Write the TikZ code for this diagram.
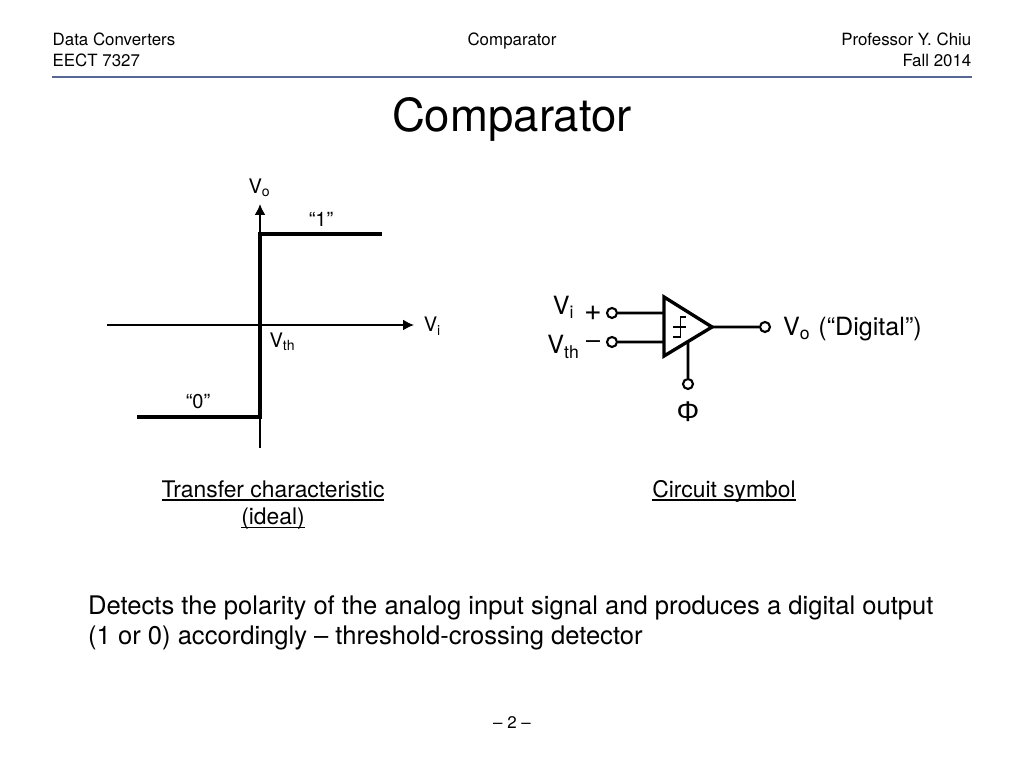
\documentclass[tikz,border=0pt]{standalone}
\usepackage{fontspec}
\usetikzlibrary{arrows.meta}
\setmainfont{TeX Gyre Heros}
\definecolor{rulecolor}{RGB}{88,104,150}
\newcommand{\ultext}[1]{\setbox0=\hbox{#1}\rlap{\rule[-0.95pt]{\wd0}{0.4pt}}\box0}
\tikzset{
  pin/.style={draw,circle,line width=0.6pt,minimum size=1mm,fill=white},
  thinline/.style={line width=0.5pt},
  thickline/.style={line width=0.95pt},
  wireline/.style={line width=0.75pt},
  axisarrow/.style={thinline,-{Latex[length=1.1mm,width=1.1mm]}},
  headtext/.style={font=\fontsize{4.8}{5.7}\selectfont},
  axistext/.style={font=\fontsize{5.7}{6.8}\selectfont},
  captext/.style={font=\fontsize{6.5}{7.8}\selectfont},
  bodytext/.style={font=\fontsize{7.28}{8.6}\selectfont},
  symtext/.style={font=\fontsize{7.15}{8.6}\selectfont},
}
\begin{document}
\begin{tikzpicture}[scale=0.1]
\tikzstyle{every node}+=[inner sep=0pt]
\useasboundingbox (0,0) rectangle (102.4,-76.8);
\fill [white] (0,0) rectangle (102.4,-76.8);
% header
\node [headtext,anchor=base west] (course) at (5.2,-4.6) {Data Converters};
\node [headtext,anchor=base west] (number) at (5.2,-6.7) {EECT 7327};
\node [headtext,anchor=base] (topic) at (51.2,-4.6) {Comparator};
\node [headtext,anchor=base east] (prof) at (97.2,-4.6) {Professor Y. Chiu};
\node [headtext,anchor=base east] (term) at (97.2,-6.7) {Fall 2014};
\coordinate (ruleL) at (5.2,-7.7);
\coordinate (ruleR) at (97.2,-7.7);
\draw [rulecolor,line width=0.5pt] (ruleL) -- (ruleR);
\node [font=\fontsize{12.95}{15}\selectfont,anchor=base] (title) at (51.2,-13.2) {Comparator};
% transfer curve
\coordinate (yLow) at (26,-44.8);
\coordinate (yHigh) at (26,-20.4);
\coordinate (xLow) at (10.7,-32.5);
\coordinate (xHigh) at (41.4,-32.5);
\draw [axisarrow] (yLow) -- (yHigh);
\draw [axisarrow] (xLow) -- (xHigh);
\coordinate (hiL) at (26,-23.4);
\coordinate (hiR) at (38.2,-23.4);
\coordinate (loL) at (13.7,-41.7);
\coordinate (loR) at (26,-41.7);
\draw [thickline] (hiR) -- (hiL) -- (loR) -- (loL);
\node [axistext] (vo) at (26,-18.8) {V\textsubscript{o}};
\node [axistext] (vi) at (43.3,-32.6) {V\textsubscript{i}};
\node [axistext] (vth) at (28.3,-34.2) {V\textsubscript{th}};
\node [axistext] (one) at (32.1,-21.9) {“1”};
\node [axistext] (zero) at (19.8,-40.2) {“0”};
% comparator
\coordinate (triA) at (66.4,-29.7);
\coordinate (triB) at (66.4,-35.6);
\coordinate (triC) at (71.2,-32.7);
\draw [thickline,line join=miter] (triA) -- (triB) -- (triC) -- cycle;
\coordinate (inP) at (66.4,-31.3);
\coordinate (inN) at (66.4,-34.2);
\coordinate (clkT) at (68.8,-34.2);
\node [pin] (pinP) at (61.2,-31.3) {};
\node [pin] (pinN) at (61.2,-34.2) {};
\node [pin] (pinO) at (76.5,-32.7) {};
\node [pin] (pinC) at (68.8,-38.4) {};
\draw [wireline] (pinP) -- (inP);
\draw [wireline] (pinN) -- (inN);
\draw [wireline] (triC) -- (pinO);
\draw [wireline] (clkT) -- (pinC);
\coordinate (hyA) at (68.6,-31.7);
\coordinate (hyB) at (68,-31.7);
\coordinate (hyC) at (68,-33.7);
\coordinate (hyD) at (67.3,-33.7);
\coordinate (hyE) at (67.3,-32.7);
\coordinate (hyF) at (68.6,-32.7);
\draw [line width=0.3pt] (hyA) -- (hyB) -- (hyC) -- (hyD);
\draw [line width=0.3pt] (hyE) -- (hyF);
\node [symtext] (lblVi) at (56.4,-30.7) {V\textsubscript{i}};
\node [symtext] (lblVth) at (56.4,-34.7) {V\textsubscript{th}};
\node [font=\fontsize{8.6}{9}\selectfont] (lblP) at (59.3,-31.35) {+};
\node [symtext] (lblN) at (59.3,-34.5) {–};
\node [symtext,anchor=base west] (lblVo) at (78.25,-33.6) {V\textsubscript{o} (“Digital”)};
\node [font=\fontsize{8.1}{9}\selectfont] (lblPhi) at (68.8,-41.2) {\fontspec{Liberation Sans}Φ};
% captions
\node [captext,anchor=base] (capA) at (27.3,-49.75) {\ultext{Transfer characteristic}};
\node [captext,anchor=base] (capB) at (27.3,-52.5) {\ultext{(ideal)}};
\node [captext,anchor=base] (capC) at (72.4,-49.75) {\ultext{Circuit symbol}};
\node [bodytext,anchor=base west] (lineA) at (8.75,-61.5) {Detects the polarity of the analog input signal and produces a digital output};
\node [bodytext,anchor=base west] (lineB) at (8.75,-64.5) {(1 or 0) accordingly – threshold-crossing detector};
\node [headtext,anchor=base] (page) at (51.2,-72.9) {– 2 –};
\end{tikzpicture}
\end{document}
